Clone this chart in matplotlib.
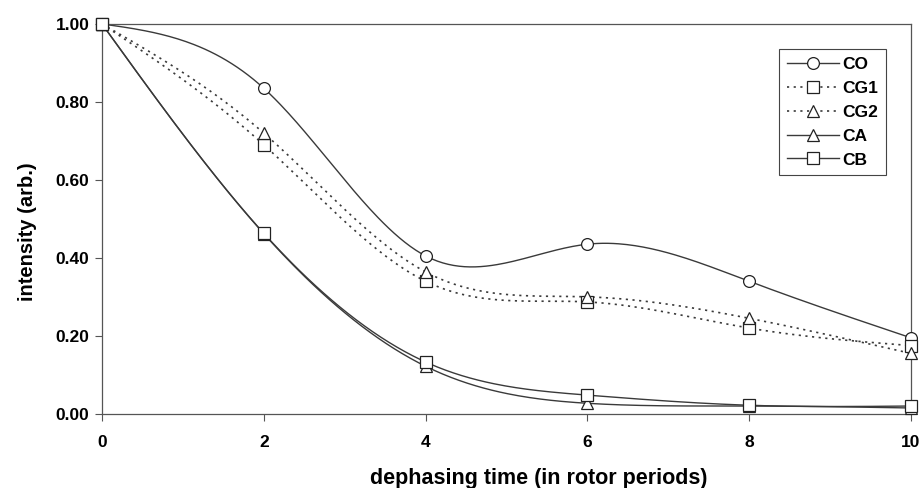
import numpy as np
import matplotlib
matplotlib.use("Agg")
import matplotlib.pyplot as plt

plt.rcParams['font.family'] = ['Liberation Sans', 'DejaVu Sans']

x = [0, 2, 4, 6, 8, 10]
CO = [1.00, 0.835, 0.405, 0.435, 0.340, 0.195]
CG1 = [1.00, 0.690, 0.340, 0.287, 0.220, 0.175]
CG2 = [1.00, 0.720, 0.364, 0.300, 0.245, 0.155]
CA = [1.00, 0.462, 0.122, 0.027, 0.020, 0.015]
CB = [1.00, 0.463, 0.133, 0.048, 0.022, 0.020]

xticks = [0, 2, 4, 6, 8, 10]
yticks = [0.0, 0.2, 0.4, 0.6, 0.8, 1.0]


def natural_spline(xs, ys, n=300):
    xs = np.asarray(xs, float)
    ys = np.asarray(ys, float)
    m = len(xs)
    h = np.diff(xs)
    A = np.zeros((m, m))
    b = np.zeros(m)
    A[0, 0] = 1
    A[-1, -1] = 1
    for i in range(1, m - 1):
        A[i, i - 1] = h[i - 1]
        A[i, i] = 2 * (h[i - 1] + h[i])
        A[i, i + 1] = h[i]
        b[i] = 6 * ((ys[i + 1] - ys[i]) / h[i] - (ys[i] - ys[i - 1]) / h[i - 1])
    M = np.linalg.solve(A, b)
    xx = np.linspace(xs[0], xs[-1], n)
    yy = np.empty_like(xx)
    for k, t in enumerate(xx):
        i = min(np.searchsorted(xs, t, side='right') - 1, m - 2)
        a = xs[i + 1] - t
        c = t - xs[i]
        yy[k] = (M[i] * a ** 3 + M[i + 1] * c ** 3) / (6 * h[i]) \
            + (ys[i] / h[i] - M[i] * h[i] / 6) * a \
            + (ys[i + 1] / h[i] - M[i + 1] * h[i] / 6) * c
    return xx, yy


fig = plt.figure(figsize=(9.22, 4.88), dpi=100)
ax = fig.add_axes([0.1106, 0.152, 0.8774, 0.799])

lc = '#3a3a3a'
dot = (0, (1.3, 2.7))
series = [
    ('CO', CO, 'o', '-'),
    ('CG1', CG1, 's', dot),
    ('CG2', CG2, '^', dot),
    ('CA', CA, '^', '-'),
    ('CB', CB, 's', '-'),
]
handles = []
for name, ys, mk, ls in series:
    ms = 8.5 if mk == 'o' else 8
    lw = 1.0 if ls == '-' else 1.2
    xx, yy = natural_spline(x, ys)
    ax.plot(xx, yy, color=lc, lw=lw, ls=ls, clip_on=False)
    ax.plot(x, ys, ls='none', marker=mk, ms=ms,
            mfc='white', mec='#222222', mew=0.9, clip_on=False, zorder=3)
    h, = ax.plot([], [], color=lc, lw=lw, ls=ls, marker=mk,
                 ms=ms, mfc='white', mec='#222222', mew=0.9)
    handles.append((h, name))

ax.set_xlim(0, 10)
ax.set_ylim(0, 1.0)
ax.set_xticks(xticks)
ax.set_yticks(yticks)
ax.set_yticklabels([f'{v:.2f}' for v in yticks])
for lab in ax.get_xticklabels() + ax.get_yticklabels():
    lab.set_fontweight('bold')
    lab.set_fontsize(12.5)
ax.tick_params(direction='out', length=5, width=0.8, color='#555555')
ax.tick_params(axis='x', pad=10)
ax.tick_params(axis='y', pad=4)
for sp in ax.spines.values():
    sp.set_color('#555555')
    sp.set_linewidth(0.9)

ax.set_xlabel('dephasing time (in rotor periods)', fontsize=15.5,
              fontweight='bold', va='top')
ax.xaxis.set_label_coords(0.54, -0.138)
ax.set_ylabel('intensity (arb.)', fontsize=14.5, fontweight='bold', va='center')
ax.yaxis.set_label_coords(-0.092, 0.467)

leg = ax.legend([h for h, _ in handles], [n for _, n in handles],
                loc='upper right', bbox_to_anchor=(0.969, 0.935),
                fancybox=False, edgecolor='#444444', framealpha=1,
                prop={'weight': 'bold', 'size': 12.5}, handlelength=3.0,
                handletextpad=0.2, labelspacing=0.5, borderpad=0.45,
                borderaxespad=0)
leg.get_frame().set_linewidth(0.8)

fig.savefig('out.png', dpi=100)
